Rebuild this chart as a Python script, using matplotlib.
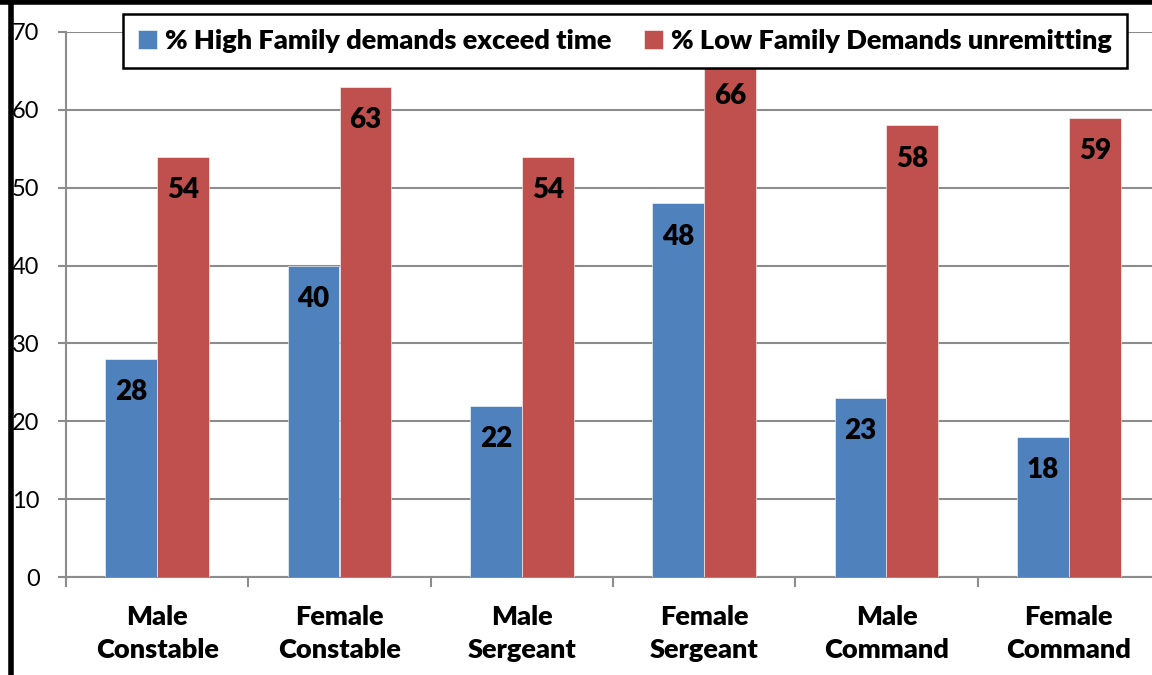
import matplotlib
matplotlib.use('Agg')
import matplotlib.pyplot as plt
from matplotlib.lines import Line2D
import numpy as np

# Family demand percentages by rank and gender
categories = ['Male\nConstable', 'Female\nConstable', 'Male\nSergeant',
              'Female\nSergeant', 'Male\nCommand', 'Female\nCommand']
high_exceed = [28, 40, 22, 48, 23, 18]
low_unremitting = [54, 63, 54, 66, 58, 59]
series_names = ['% High Family demands exceed time',
                '% Low Family Demands unremitting']

plt.rcParams['font.family'] = ['Lato', 'DejaVu Sans']

fig = plt.figure(figsize=(11.52, 6.75), dpi=100)
ax = fig.add_axes([66 / 1152, 1 - 577 / 675, (1160 - 66) / 1152, (577 - 32) / 675])

x = np.arange(len(categories))
w = 0.285
b1 = ax.bar(x - w / 2, high_exceed, w, color='#4F81BD', edgecolor='white',
            linewidth=0.4, label=series_names[0], zorder=3)
b2 = ax.bar(x + w / 2, low_unremitting, w, color='#C0504D', edgecolor='white',
            linewidth=0.4, label=series_names[1], zorder=3)

# value labels just inside the top of each bar
for bars, vals in [(b1, high_exceed), (b2, low_unremitting)]:
    for rect, v in zip(bars, vals):
        ax.annotate(f'{v}', (rect.get_x() + rect.get_width() / 2, v),
                    xytext=(0, -24), textcoords='offset points',
                    ha='center', va='center', fontsize=20, fontweight='heavy',
                    zorder=4)

ax.set_xlim(-0.5, len(categories) - 0.5)
ax.set_ylim(0, 70)
ax.set_yticks(range(0, 71, 10))
ax.yaxis.grid(True, color='#8c8c8c', linewidth=1.5, zorder=0)
ax.set_axisbelow(True)

# category boundaries as major ticks, names on minor ticks
ax.set_xticks(np.arange(-0.5, len(categories), 1.0))
ax.set_xticklabels([])
ax.set_xticks(x, minor=True)
ax.set_xticklabels(categories, minor=True, fontsize=19.5, fontweight='heavy',
                   linespacing=1.45)
ax.tick_params(axis='x', which='major', length=7, width=1.5, color='#8c8c8c')
ax.tick_params(axis='x', which='minor', length=0, pad=20)
ax.tick_params(axis='y', length=6, width=1.5, color='#8c8c8c', labelsize=17, pad=13)

for side in ['top', 'right']:
    ax.spines[side].set_visible(False)
for side in ['left', 'bottom']:
    ax.spines[side].set_color('#8c8c8c')
    ax.spines[side].set_linewidth(1.5)

leg = ax.legend(loc='center', bbox_to_anchor=(625 / 1152, 1 - 41 / 675),
                bbox_transform=fig.transFigure, ncol=2,
                prop={'weight': 'heavy', 'size': 19.5}, frameon=True,
                fancybox=False, edgecolor='black', framealpha=1,
                handlelength=0.7, handleheight=0.7, handletextpad=0.3,
                columnspacing=1.2, borderpad=0.55)
leg.get_frame().set_linewidth(1.8)
leg.set_zorder(10)

# black border along the top and left of the figure
fig.add_artist(Line2D([0, 1], [1 - 2 / 675, 1 - 2 / 675], color='black',
                      linewidth=4, transform=fig.transFigure))
fig.add_artist(Line2D([10.5 / 1152, 10.5 / 1152], [0, 1], color='black',
                      linewidth=4, transform=fig.transFigure))

fig.savefig('out.png', dpi=100)
